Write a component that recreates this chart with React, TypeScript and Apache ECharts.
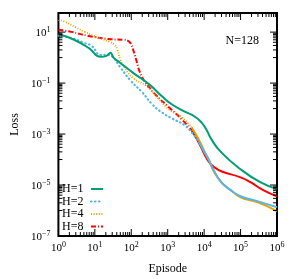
import React, { useEffect, useRef } from "react";
import * as echarts from "echarts";

// log10(episode) and log10(loss) values
const h1LogEp = [0, 0.43, 0.83, 1.16, 1.32, 1.43, 1.51, 1.69, 2.04, 2.5, 2.85, 3.12, 3.47, 3.74, 3.93, 4.06, 4.2, 4.47, 5.0, 5.54, 6.0];
const h1LogLoss = [0.93, 0.7, 0.38, 0.03, 0.07, 0.19, 0.0, -0.2, -0.59, -1.06, -1.53, -1.84, -2.12, -2.31, -2.55, -2.82, -3.21, -3.72, -4.38, -4.89, -5.16];

const h2LogEp = [0, 0.35, 0.7, 0.91, 1.16, 1.32, 1.45, 1.69, 1.96, 2.31, 2.58, 2.85, 3.12, 3.47, 3.66, 3.85, 4.01, 4.12, 4.25, 4.47, 4.73, 5.0, 5.46, 6.0];
const h2LogLoss = [0.85, 0.77, 0.58, 0.46, 0.11, 0.11, 0.07, -0.36, -0.87, -1.38, -1.84, -2.16, -2.39, -2.66, -2.94, -3.29, -3.72, -3.99, -4.38, -4.89, -5.2, -5.44, -5.63, -5.87];

const h4LogEp = [0, 0.19, 0.46, 0.72, 1.12, 1.41, 1.54, 1.62, 1.7, 1.8, 2.04, 2.4, 2.77, 3.04, 3.39, 3.66, 3.85, 4.01, 4.12, 4.25, 4.47, 4.73, 5.0, 5.46, 6.0];
const h4LogLoss = [1.48, 1.4, 1.2, 1.01, 0.77, 0.62, 0.5, 0.3, -0.09, -0.36, -0.79, -1.1, -1.65, -2.04, -2.35, -2.74, -3.21, -3.68, -3.99, -4.42, -4.89, -5.2, -5.48, -5.67, -6.02];

const h8LogEp = [0, 0.35, 0.83, 1.37, 1.78, 1.91, 1.99, 2.07, 2.15, 2.23, 2.37, 2.5, 2.66, 3.04, 3.39, 3.66, 3.85, 4.01, 4.14, 4.28, 4.47, 5.0, 5.27, 5.62, 6.0];
const h8LogLoss = [1.09, 1.01, 0.85, 0.73, 0.7, 0.66, 0.54, 0.23, -0.16, -0.55, -0.95, -1.18, -1.45, -1.96, -2.43, -2.86, -3.33, -3.8, -4.11, -4.3, -4.46, -4.7, -4.89, -5.2, -5.44];

const legendLabels = ["H=1", "H=2", "H=4", "H=8"];
const xTickDecades = [0, 1, 2, 3, 4, 5, 6];
const yLabelDecades = [-7, -5, -3, -1, 1];

const COLORS = ["#009e73", "#56b4e9", "#e69f00", "#ff0000"];
const DASHES: any[] = ["solid", [0.5, 3.5], [1, 1.6], [5, 2, 1, 2]];
const WIDTHS = [2, 2.2, 1.8, 2];
const CAPS = ["butt", "round", "butt", "butt"];
// where the pattern turns visually solid (dense samples), in log10(episode)
const SOLID_FROM = [0, 3.85, 3.66, 3.66];

const FONT = "Liberation Serif";
const Y_MIN = -7;
const Y_MAX = 1.75;

function supLabel(v: number) {
  const e = v < 0 ? "\u2212" + -v : String(v);
  return `{b|10}{s|${e}}`;
}

const App: React.FC = () => {
  const ref = useRef<HTMLDivElement>(null);
  useEffect(() => {
    if (!ref.current) return;
    const chart = echarts.init(ref.current, undefined, { renderer: "svg" });

    // tick specs: [value, length, axis(0=x,1=y)]
    const ticks: number[][] = [];
    for (let d = 0; d <= 6; d++) {
      ticks.push([d, 7, 0]);
      if (d < 6) for (let k = 2; k <= 9; k++) ticks.push([d + Math.log10(k), 4, 0]);
    }
    for (let d = -7; d <= 1; d += 2) {
      ticks.push([d, 7, 1]);
      for (let k = 1; k <= 9; k++) {
        const v = d + Math.log10(k * 10);
        if (v < Y_MAX) ticks.push([v, 4, 1]);
      }
    }

    const raw = [
      [h1LogEp, h1LogLoss],
      [h2LogEp, h2LogLoss],
      [h4LogEp, h4LogLoss],
      [h8LogEp, h8LogLoss],
    ];
    const lineSeries: any[] = [];
    raw.forEach(([xs, ys], i) => {
      const pts = xs.map((x, j) => [x, ys[j]]);
      const base = {
        type: "line",
        showSymbol: false,
        smooth: 0.5,
        z: 3 + (3 - i),
        silent: true,
      };
      if (i === 0) {
        lineSeries.push({ ...base, name: legendLabels[i], data: pts, lineStyle: { color: COLORS[i], width: WIDTHS[i], type: "solid" } });
      } else {
        const cut = xs.findIndex((x) => x >= SOLID_FROM[i]);
        lineSeries.push({
          ...base,
          name: legendLabels[i],
          data: pts.slice(0, cut + 1),
          lineStyle: { color: COLORS[i], width: WIDTHS[i], type: DASHES[i], cap: CAPS[i] },
        });
        lineSeries.push({
          ...base,
          name: legendLabels[i] + " ",
          data: pts.slice(cut),
          lineStyle: { color: COLORS[i], width: 2, type: "solid" },
        });
      }
    });

    const legendTop = 189;
    const legendGap = 12.5;
    const graphics: any[] = [];
    legendLabels.forEach((lab, i) => {
      const y = legendTop + i * legendGap;
      graphics.push({
        type: "text",
        left: 62,
        top: y - 7,
        style: { text: lab, font: `12px '${FONT}'`, fill: "#000" },
      });
      graphics.push({
        type: "line",
        shape: { x1: 91, y1: y, x2: 103, y2: y },
        style: { stroke: COLORS[i], lineWidth: WIDTHS[i], lineDash: DASHES[i] === "solid" ? null : DASHES[i], lineCap: CAPS[i] },
      });
    });
    graphics.push({
      type: "text",
      right: 41,
      top: 34,
      style: { text: "N=128", font: `12px '${FONT}'`, fill: "#000" },
    });

    const rich = {
      b: { fontSize: 11, fontFamily: FONT, color: "#000", lineHeight: 14 },
      s: { fontSize: 8, fontFamily: FONT, color: "#000", verticalAlign: "top", lineHeight: 14, padding: [0, 0, 5, 0] },
    };

    chart.setOption({
      animation: false,
      grid: { left: 54, right: 23, top: 13, bottom: 42, show: true, borderColor: "#000", borderWidth: 2, backgroundColor: "transparent" },
      xAxis: {
        type: "value",
        min: 0,
        max: 6,
        interval: 1,
        name: "Episode",
        nameLocation: "middle",
        nameGap: 26,
        nameTextStyle: { fontFamily: FONT, fontSize: 12, color: "#000" },
        axisLine: { show: false },
        axisTick: { show: false },
        splitLine: { show: false },
        axisLabel: {
          margin: 4,
          formatter: (v: number) => (xTickDecades.includes(v) ? supLabel(v) : ""),
          rich,
        },
      },
      yAxis: {
        type: "value",
        min: Y_MIN,
        max: Y_MAX,
        interval: 1,
        name: "Loss",
        nameLocation: "middle",
        nameGap: 37,
        nameTextStyle: { fontFamily: FONT, fontSize: 12, color: "#000" },
        axisLine: { show: false },
        axisTick: { show: false },
        splitLine: { show: false },
        axisLabel: {
          margin: 8,
          showMaxLabel: false,
          formatter: (v: number) => (yLabelDecades.includes(v) ? supLabel(v) : ""),
          rich,
        },
      },
      graphic: graphics,
      series: [
        ...lineSeries,
        {
          type: "custom",
          silent: true,
          z: 10,
          data: ticks,
          renderItem: (params: any, api: any) => {
            const v = api.value(0);
            const len = api.value(1);
            const ax = api.value(2);
            const st = { stroke: "#000", lineWidth: 1 };
            if (ax === 0) {
              const b = api.coord([v, Y_MIN]);
              const t = api.coord([v, Y_MAX]);
              return {
                type: "group",
                children: [
                  { type: "line", shape: { x1: b[0], y1: b[1], x2: b[0], y2: b[1] - len }, style: st },
                  { type: "line", shape: { x1: t[0], y1: t[1], x2: t[0], y2: t[1] + len }, style: st },
                ],
              };
            }
            const l = api.coord([0, v]);
            const r = api.coord([6, v]);
            return {
              type: "group",
              children: [
                { type: "line", shape: { x1: l[0], y1: l[1], x2: l[0] + len, y2: l[1] }, style: st },
                { type: "line", shape: { x1: r[0], y1: r[1], x2: r[0] - len, y2: r[1] }, style: st },
              ],
            };
          },
        },
      ],
    });
    return () => chart.dispose();
  }, []);
  return <div ref={ref} style={{ position: "fixed", left: 0, top: 0, width: 300, height: 279 }} />;
};

export default App;
